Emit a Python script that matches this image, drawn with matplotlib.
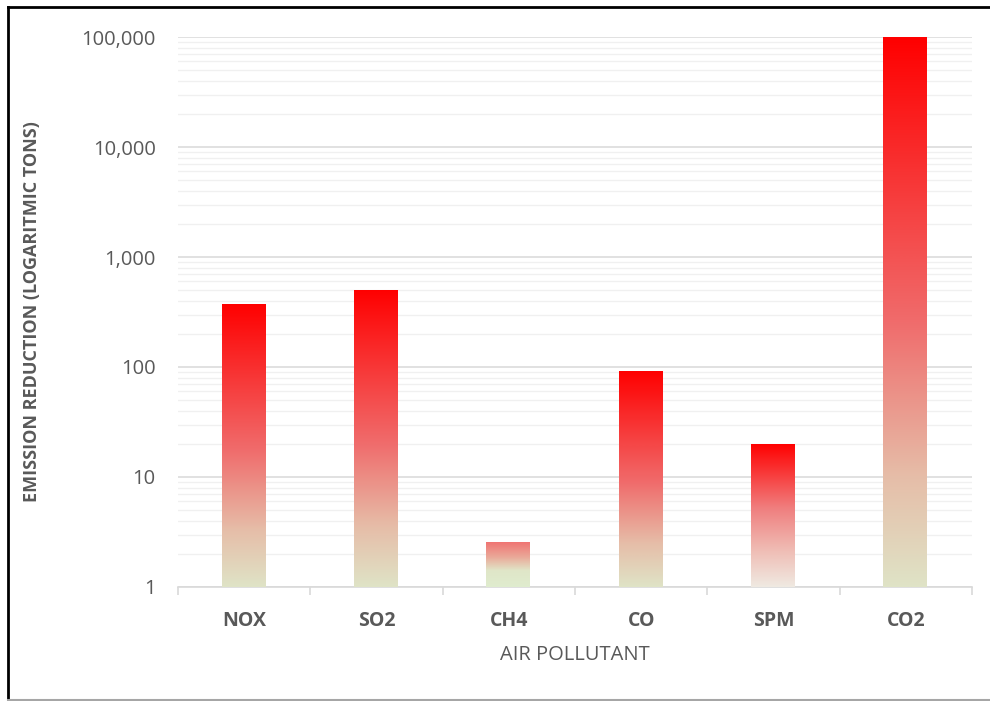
import numpy as np
import matplotlib
matplotlib.use("Agg")
import matplotlib.pyplot as plt
from matplotlib import font_manager
from matplotlib.colors import LinearSegmentedColormap
from matplotlib.transforms import blended_transform_factory
from matplotlib.lines import Line2D
from matplotlib.ticker import FixedLocator, FuncFormatter, LogLocator

# Emission reduction per pollutant (tons, log scale)
pollutants = ["NOX", "SO2", "CH4", "CO", "SPM", "CO2"]
reductions = [380, 510, 2.6, 92, 20, 100000]
y_ticks = [1, 10, 100, 1000, 10000, 100000]

x_title = "AIR POLLUTANT"
y_title = "EMISSION REDUCTION (LOGARITMIC TONS)"

available = {f.name for f in font_manager.fontManager.ttflist}
label_font = "Open Sans" if "Open Sans" in available else "DejaVu Sans"
tick_font = label_font

TEXT = "#595959"
MAJOR_GRID = "#d9d9d9"
MINOR_GRID = "#f0f0f0"

# gradient fills (bottom -> top)
warm = [(0.0, "#dfe3c6"), (0.2, "#e6bda8"), (0.48, "#f06c6c"), (1.0, "#ff0000")]
ch4_fill = [(0.0, "#dfecce"), (0.35, "#e0e6c8"), (0.65, "#eaa898"), (1.0, "#f07070")]
spm_fill = [(0.0, "#efe9e1"), (0.25, "#efbdb5"), (0.55, "#f07e7e"), (1.0, "#ff0000")]
fills = [warm, warm, ch4_fill, warm, spm_fill, warm]

fig = plt.figure(figsize=(9.9, 7.01), dpi=100)
ax = fig.add_axes([178 / 990, 1 - 587 / 701, (972 - 178) / 990, (587 - 37) / 701])

x = np.arange(len(pollutants))
ax.set_yscale("log")
ax.set_ylim(1, 100000)
ax.set_xlim(-0.5, len(pollutants) - 0.5)

bars = ax.bar(x, reductions, width=0.34, bottom=1, color="none", linewidth=0, zorder=3)

ymin, ymax = ax.get_ylim()
span = np.log10(ymax) - np.log10(ymin)
trans = blended_transform_factory(ax.transData, ax.transAxes)
for patch, val, stops in zip(bars.patches, reductions, fills):
    cmap = LinearSegmentedColormap.from_list("fill", stops)
    frac = (np.log10(val) - np.log10(ymin)) / span
    grad = np.linspace(0, 1, 256).reshape(-1, 1)
    im = ax.imshow(grad, cmap=cmap, origin="lower", aspect="auto",
                   extent=(patch.get_x(), patch.get_x() + patch.get_width(), 0, frac),
                   transform=trans, interpolation="bilinear", zorder=3)
    im.set_clip_path(patch)
ax.set_xlim(-0.5, len(pollutants) - 0.5)
ax.set_ylim(1, 100000)

# grid
ax.yaxis.set_major_locator(FixedLocator(y_ticks))
ax.yaxis.set_minor_locator(LogLocator(base=10, subs=np.arange(2, 10)))
ax.yaxis.set_major_formatter(FuncFormatter(lambda v, p: f"{int(round(v)):,}"))
ax.yaxis.set_minor_formatter(FuncFormatter(lambda v, p: ""))
ax.grid(True, which="major", axis="y", color=MAJOR_GRID, linewidth=1.1, zorder=0)
ax.grid(True, which="minor", axis="y", color=MINOR_GRID, linewidth=1.0, zorder=0)
ax.set_axisbelow(True)

for side in ["left", "right", "top"]:
    ax.spines[side].set_visible(False)
ax.spines["bottom"].set_color(MAJOR_GRID)
ax.spines["bottom"].set_linewidth(1.2)

ax.tick_params(axis="y", which="both", length=0, pad=16, labelsize=14.5, labelcolor=TEXT)
for lbl in ax.get_yticklabels():
    lbl.set_fontfamily(tick_font)

ax.set_xticks(x)
ax.set_xticklabels(pollutants, fontsize=14, fontweight="bold", color=TEXT, family=label_font)
ax.xaxis.set_minor_locator(FixedLocator(np.arange(-0.5, len(pollutants))))
ax.tick_params(axis="x", which="major", length=0, pad=17)
ax.tick_params(axis="x", which="minor", length=6, width=1.2, color=MAJOR_GRID)

ax.set_xlabel(x_title, fontsize=14.5, color=TEXT, family=label_font, labelpad=10)
ax.set_ylabel(y_title, fontsize=13, fontweight="bold", color=TEXT, family=label_font, labelpad=0)
ax.yaxis.set_label_coords(-0.172, 0.5)

# frame around the chart
fig.add_artist(Line2D([8 / 990, 8 / 990], [0, 1 - 7 / 701], color="black", linewidth=2, transform=fig.transFigure))
fig.add_artist(Line2D([8 / 990, 1], [1 - 7 / 701, 1 - 7 / 701], color="black", linewidth=2, transform=fig.transFigure))
fig.add_artist(Line2D([8 / 990, 1], [1 / 701, 1 / 701], color="#a6a6a6", linewidth=1.5, transform=fig.transFigure))

fig.savefig("out.png", dpi=100)
